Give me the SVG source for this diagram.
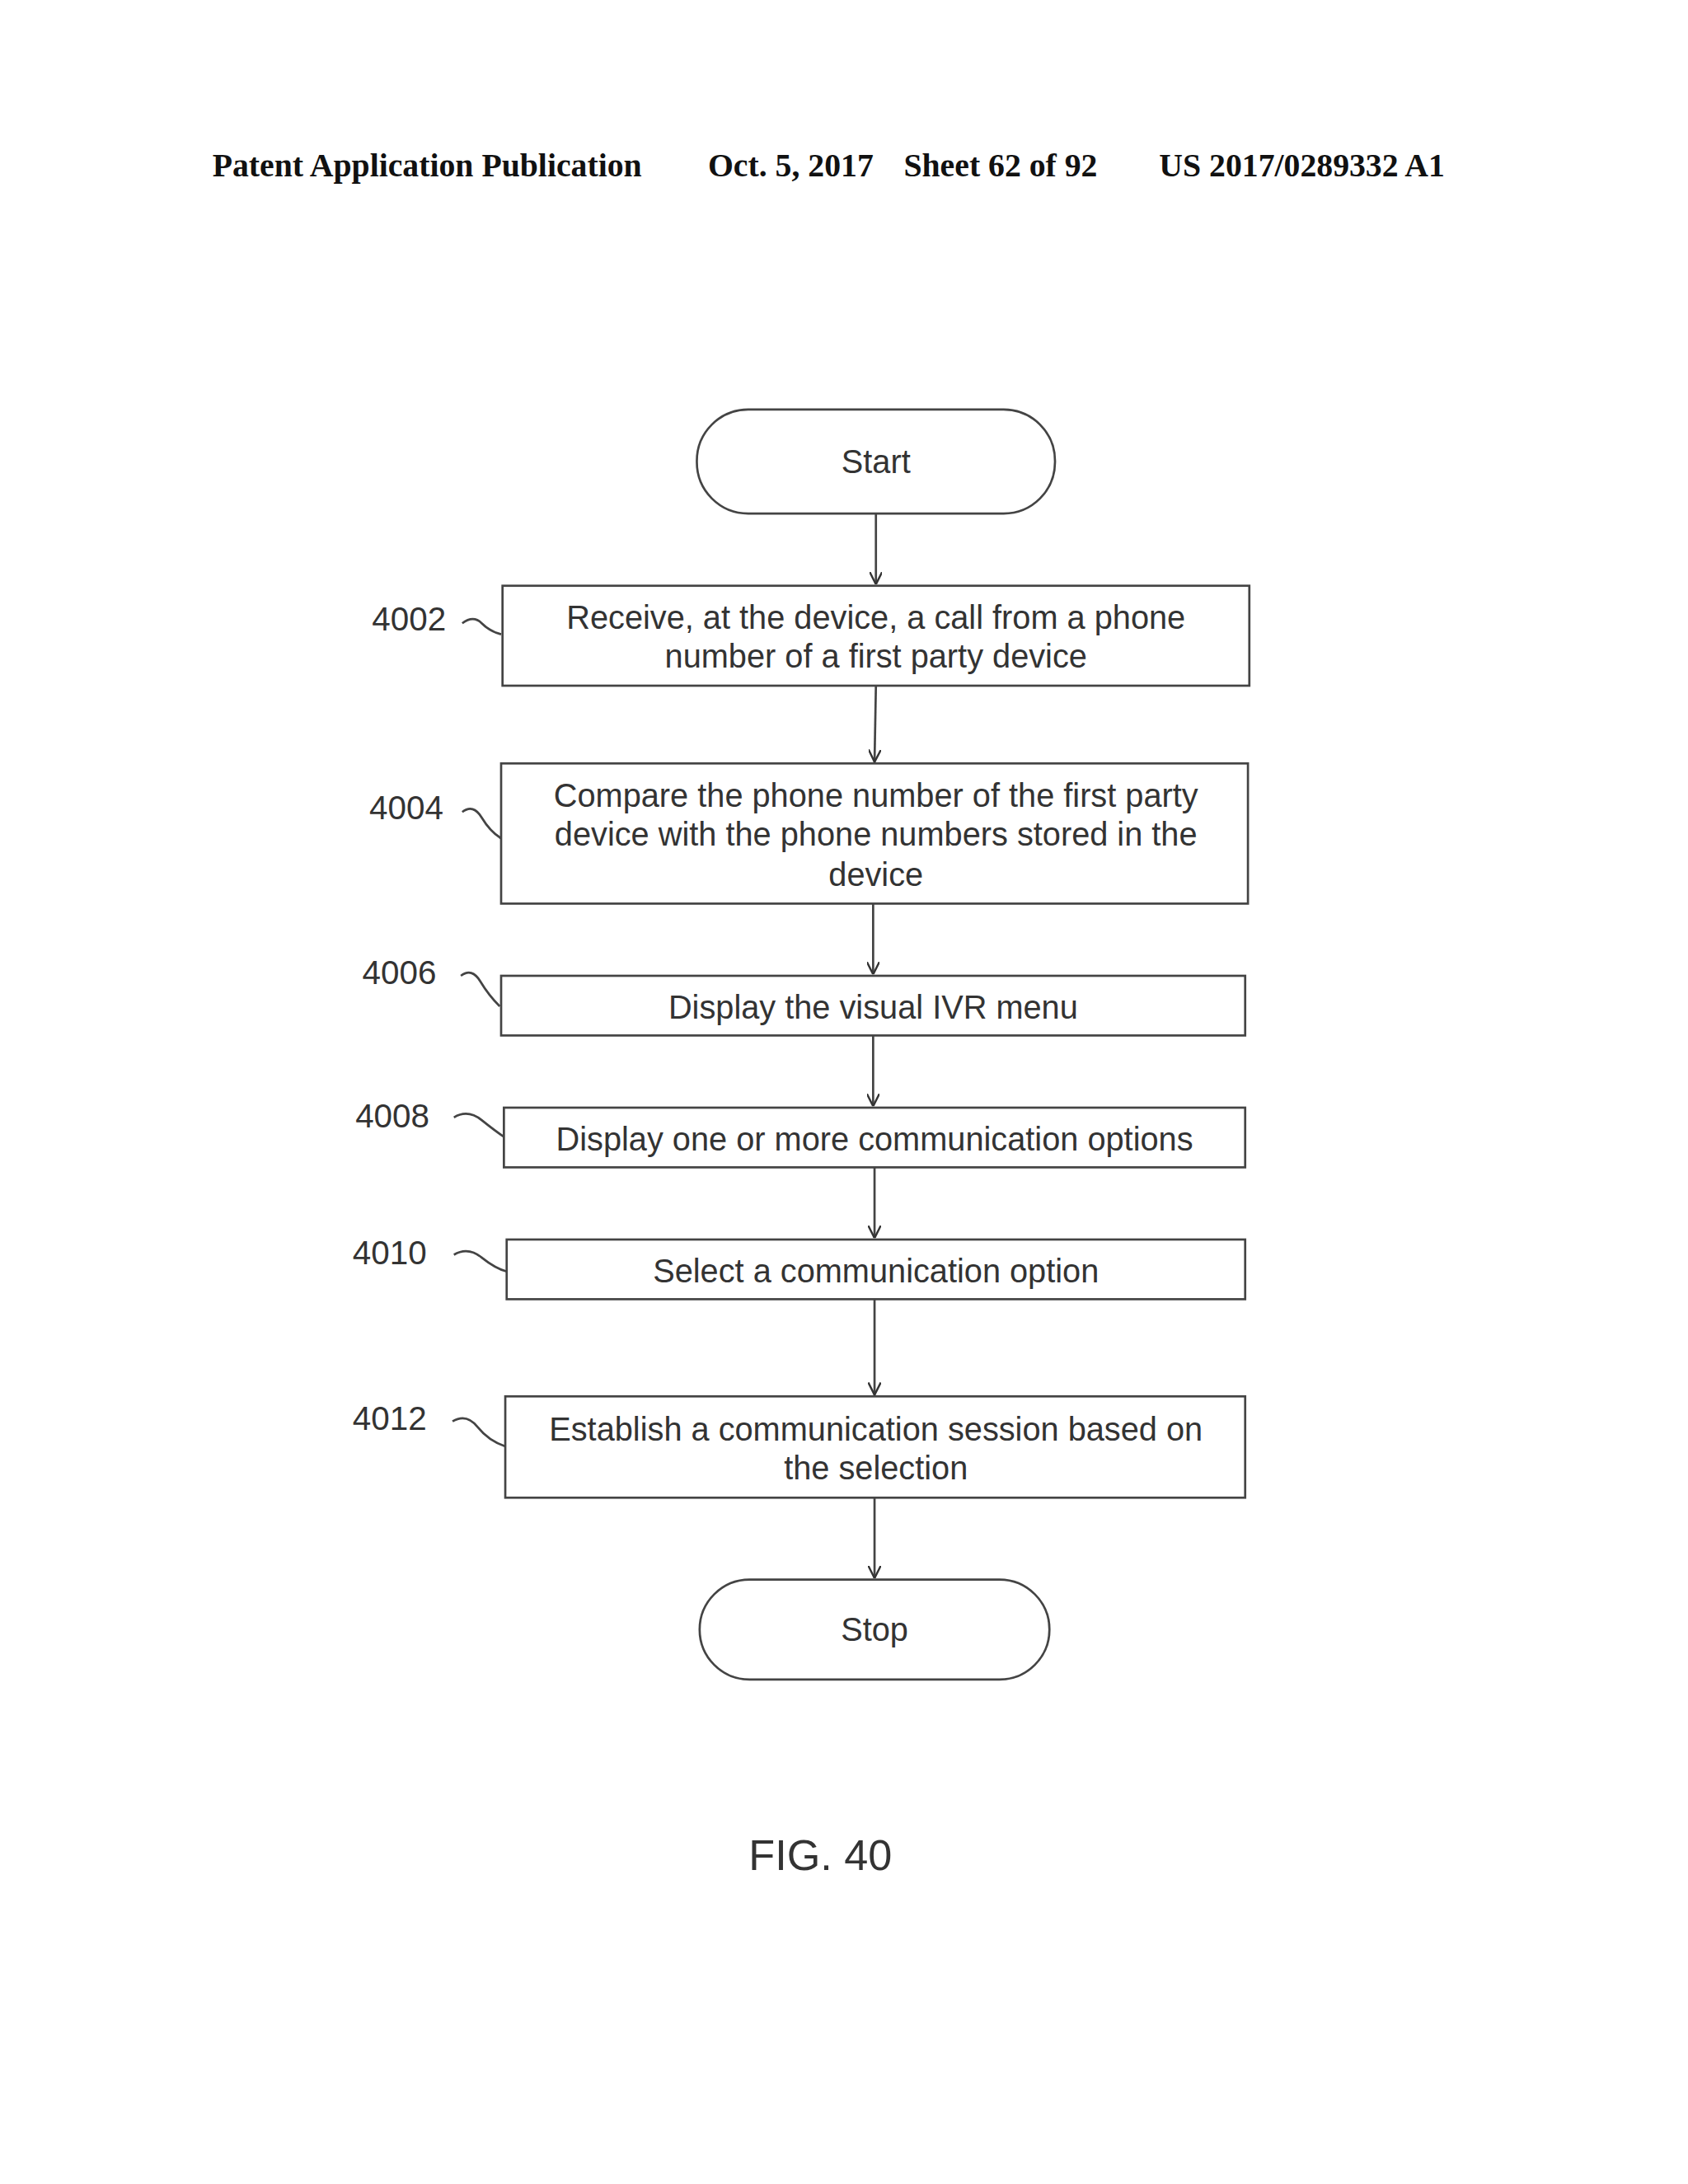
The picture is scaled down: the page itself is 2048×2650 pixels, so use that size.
<svg xmlns="http://www.w3.org/2000/svg" width="2048" height="2650" viewBox="0 0 2048 2650">
<defs>
<marker id="ah" viewBox="0 0 10 10" refX="10" refY="5" markerWidth="9" markerHeight="9" orient="auto" markerUnits="userSpaceOnUse"><path d="M0,0 L10,5 L0,10" fill="none" stroke="#333" stroke-width="1.6"/></marker>
<style>
.b{fill:#fff;stroke:#444;stroke-width:1.6}
.t{font-family:"Liberation Sans",Arial,sans-serif;font-size:23.6px;fill:#333;text-anchor:middle}
.l{font-family:"Liberation Sans",Arial,sans-serif;font-size:24px;fill:#333}
.h{font-family:"Liberation Serif","Times New Roman",serif;font-size:23.6px;font-weight:bold;fill:#111}
.c{fill:none;stroke:#444;stroke-width:1.6}
</style>
</defs>
<rect width="2048" height="2650" fill="#fff"/>
<g transform="scale(1.6842)">
<g id="header">
<text class="h" x="153" y="127">Patent Application Publication</text>
<text class="h" x="510" y="127">Oct. 5, 2017</text>
<text class="h" x="651" y="127">Sheet 62 of 92</text>
<text class="h" x="835" y="127">US 2017/0289332 A1</text>
</g>
<g id="start"><rect class="b" x="502" y="295" width="258" height="75" rx="37"/><text class="t" x="631" y="341">Start</text></g>
<g id="n4002"><rect class="b" x="362" y="422" width="538" height="72"/><text class="t" x="631" y="453">Receive, at the device, a call from a phone</text><text class="t" x="631" y="481">number of a first party device</text>
<text class="l" x="268" y="454">4002</text><path class="c" d="M333,449 q8,-6 14,0 t14,8"/></g>
<g id="n4004"><rect class="b" x="361" y="550" width="538" height="101"/><text class="t" x="631" y="581">Compare the phone number of the first party</text><text class="t" x="631" y="609">device with the phone numbers stored in the</text><text class="t" x="631" y="638">device</text>
<text class="l" x="266" y="590">4004</text><path class="c" d="M333,585 q8,-6 14,4 t14,15"/></g>
<g id="n4006"><rect class="b" x="361" y="703" width="536" height="43"/><text class="t" x="629" y="734">Display the visual IVR menu</text>
<text class="l" x="261" y="709">4006</text><path class="c" d="M332,703 q8,-6 14,4 t14,18"/></g>
<g id="n4008"><rect class="b" x="363" y="798" width="534" height="43"/><text class="t" x="630" y="829">Display one or more communication options</text>
<text class="l" x="256" y="812">4008</text><path class="c" d="M327,805 q10,-6 20,2 t16,12"/></g>
<g id="n4010"><rect class="b" x="365" y="893" width="532" height="43"/><text class="t" x="631" y="924">Select a communication option</text>
<text class="l" x="254" y="911">4010</text><path class="c" d="M327,904 q10,-6 20,2 t18,10"/></g>
<g id="n4012"><rect class="b" x="364" y="1006" width="533" height="73"/><text class="t" x="631" y="1038">Establish a communication session based on</text><text class="t" x="631" y="1066">the selection</text>
<text class="l" x="254" y="1030">4012</text><path class="c" d="M326,1024 q10,-6 18,4 t20,14"/></g>
<g id="stop"><rect class="b" x="504" y="1138" width="252" height="72" rx="36"/><text class="t" x="630" y="1182">Stop</text></g>
<g id="connectors">
<line class="c" x1="631" y1="370" x2="631" y2="421" marker-end="url(#ah)"/>
<line class="c" x1="631" y1="494" x2="630" y2="549" marker-end="url(#ah)"/>
<line class="c" x1="629" y1="651" x2="629" y2="702" marker-end="url(#ah)"/>
<line class="c" x1="629" y1="746" x2="629" y2="797" marker-end="url(#ah)"/>
<line class="c" x1="630" y1="841" x2="630" y2="892" marker-end="url(#ah)"/>
<line class="c" x1="630" y1="936" x2="630" y2="1005" marker-end="url(#ah)"/>
<line class="c" x1="630" y1="1079" x2="630" y2="1137" marker-end="url(#ah)"/>
</g>
<text class="l" x="591" y="1347" style="font-size:31px;text-anchor:middle">FIG. 40</text>
</g>
</svg>
